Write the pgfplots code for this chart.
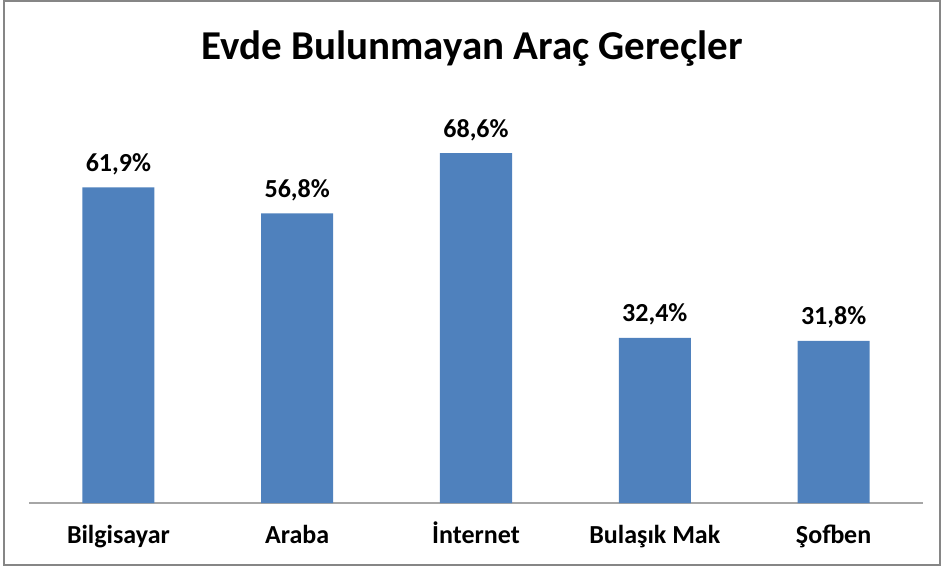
\documentclass[border=0pt]{standalone}
\usepackage{pgfplots}
\pgfplotsset{compat=1.18}
\usepackage{fontspec}
\setmainfont{Carlito}
\definecolor{barblue}{HTML}{4F81BD}
\definecolor{axgray}{HTML}{A6A6A6}
\definecolor{framegray}{HTML}{868686}
\begin{document}
\begin{tikzpicture}[x=0.5pt,y=0.5pt]
% canvas 945 x 567 px (y up)
\begin{axis}[
  at={(14.5pt,32pt)}, anchor=south west,
  scale only axis,
  width=447pt, height=204pt,
  ymin=0, ymax=80,
  xmin=-0.5, xmax=4.5,
  ybar, bar width=0.403,
  axis x line*=bottom,
  axis y line=none,
  x axis line style={axgray, line width=0.8pt, -},
  xtick=data,
  xticklabels={Bilgisayar, Araba, İnternet, Bulaşık Mak, Şofben},
  major tick length=0pt,
  xticklabel style={font=\fontsize{13pt}{15pt}\selectfont\bfseries, anchor=base, yshift=-20pt, inner sep=0pt},
  nodes near coords={\pgfmathprintnumber[fixed, fixed zerofill, precision=1, use comma]{\pgfplotspointmeta}\%},
  every node near coord/.append style={font=\fontsize{13pt}{15pt}\selectfont\bfseries, anchor=base, yshift=8pt, inner sep=0pt},
  /pgf/number format/assume math mode=true,
  clip=false,
]
\addplot[fill=barblue, draw=none] coordinates {(0,61.9) (1,56.8) (2,68.6) (3,32.4) (4,31.8)};
\end{axis}
\draw[framegray, line width=1.2pt] (4,2) rectangle (940,566);
\node[font=\fontsize{20.5pt}{24pt}\selectfont\bfseries, anchor=base] at (472,567-60) {Evde Bulunmayan Araç Gereçler};
\pgfresetboundingbox
\path[use as bounding box] (0,0) rectangle (945,567);
\end{tikzpicture}
\end{document}
